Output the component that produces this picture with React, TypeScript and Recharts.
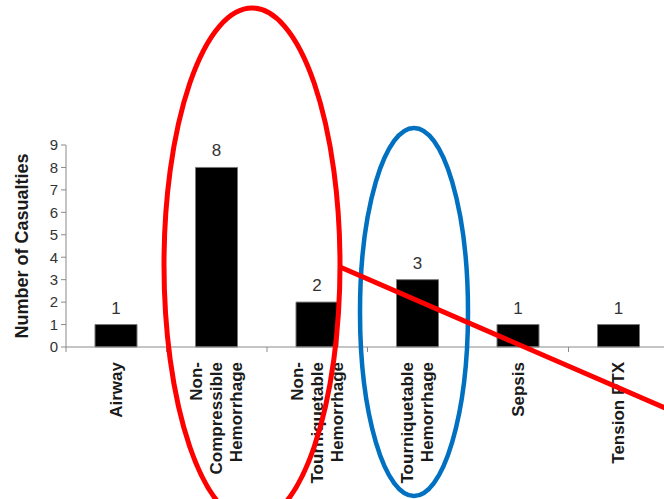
import { BarChart, Bar, XAxis, YAxis, LabelList } from "recharts";

const categories = [
  "Airway",
  "Non-\nCompressible\nHemorrhage",
  "Non-\nTourniquetable\nHemorrhage",
  "Tourniquetable\nHemorrhage",
  "Sepsis",
  "Tension PTX",
];
const casualties = [1, 8, 2, 3, 1, 1];
const yTicks = [0, 1, 2, 3, 4, 5, 6, 7, 8, 9];

const data = categories.map((name, i) => ({ name, value: casualties[i] }));

const AXIS = "#8a8a8a";

function CategoryTick(props: any) {
  const { x, y, payload } = props;
  const lines: string[] = String(payload.value).split("\n");
  const half = payload.offset ?? 50;
  const step = 20;
  return (
    <g>
      <line x1={x - half} y1={y - 5} x2={x - half} y2={y} stroke={AXIS} />
      {lines.map((ln, i) => (
        <text
          key={i}
          transform={`translate(${x + (i - (lines.length - 1) / 2) * step}, ${y + 10}) rotate(-90)`}
          textAnchor="end"
          dominantBaseline="central"
          fontSize={17}
          fontWeight="bold"
          fill="#1a1a1a"
        >
          {ln}
        </text>
      ))}
    </g>
  );
}

function YTitle(props: any) {
  const vb = props.viewBox || { x: 0, y: 145, height: 202 };
  const cy = vb.y + vb.height / 2;
  return (
    <text
      transform={`translate(22, ${cy}) rotate(-90)`}
      textAnchor="middle"
      dominantBaseline="central"
      fontSize={18}
      fontWeight="bold"
      fill="#1a1a1a"
    >
      Number of Casualties
    </text>
  );
}

export default function App() {
  return (
    <div
      style={{
        position: "absolute",
        left: 0,
        top: 0,
        width: 664,
        height: 499,
        overflow: "hidden",
        background: "#fff",
        fontFamily: "'Liberation Sans', Arial, sans-serif",
      }}
    >
      <BarChart width={672} height={499} data={data} margin={{ top: 145, right: 3, left: 0, bottom: 0 }}>
        <XAxis
          dataKey="name"
          interval={0}
          height={152}
          tickLine={false}
          tickSize={5}
          tickMargin={0}
          axisLine={{ stroke: AXIS }}
          tick={<CategoryTick />}
        />
        <YAxis
          width={66}
          domain={[0, 9]}
          ticks={yTicks}
          interval={0}
          tickSize={5}
          tickMargin={3}
          axisLine={{ stroke: AXIS }}
          tickLine={{ stroke: AXIS }}
          tick={{ fill: "#333", fontSize: 15 }}
          label={<YTitle />}
        />
        <Bar dataKey="value" fill="#000" stroke="#777" strokeWidth={1} barSize={42} isAnimationActive={false}>
          <LabelList dataKey="value" position="top" offset={11} fill="#333" fontSize={17} />
        </Bar>
      </BarChart>
      <svg
        width={664}
        height={499}
        style={{ position: "absolute", left: 0, top: 0, pointerEvents: "none" }}
      >
        <ellipse cx={252} cy={265} rx={88} ry={257} fill="none" stroke="#ff0000" strokeWidth={5} />
        <ellipse cx={414} cy={312} rx={54} ry={184} fill="none" stroke="#0070c0" strokeWidth={4.5} />
        <line x1={340} y1={267} x2={672} y2={411} stroke="#ff0000" strokeWidth={5} />
      </svg>
    </div>
  );
}
